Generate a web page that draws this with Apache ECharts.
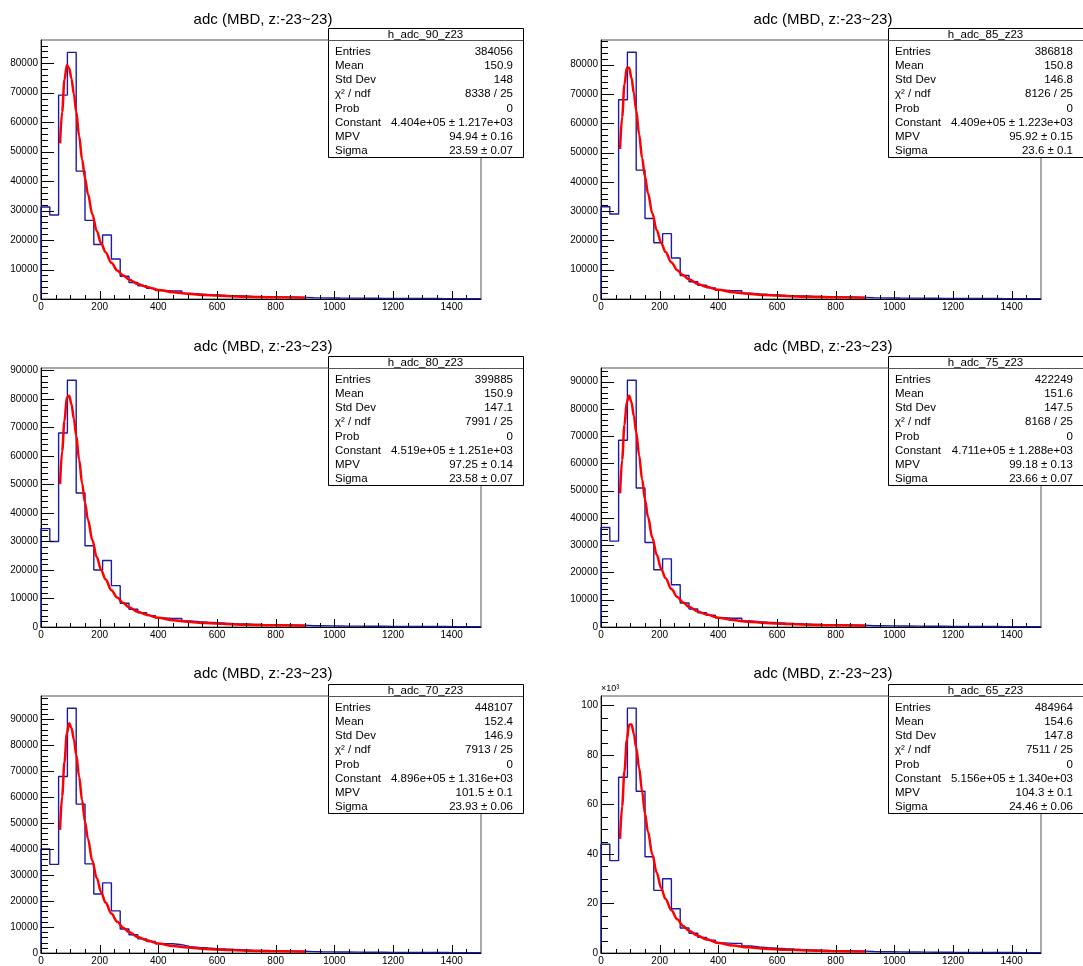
<!DOCTYPE html>
<html>
<head>
<meta charset="utf-8">
<script src="https://cdn.jsdelivr.net/npm/echarts@6/dist/echarts.min.js"></script>
<style>html,body{margin:0;padding:0;background:#fff;}#c{width:1083px;height:966px;}</style>
</head>
<body>
<div id="c"></div>
<script>
// ---------------- data ----------------
const BIN_WIDTH = 30;
const X_MAX = 1500;
const xTickLabels = [0, 200, 400, 600, 800, 1000, 1200, 1400];
const plotTitle = 'adc (MBD, z:-23~23)';
const histNames = ['h_adc_90_z23', 'h_adc_85_z23', 'h_adc_80_z23', 'h_adc_75_z23', 'h_adc_70_z23', 'h_adc_65_z23'];

const counts_90 = [31200, 28500, 69200, 83700, 43400, 26700, 18500, 21700, 13600, 7700,
  5600, 4500, 3600, 2900, 2700, 2700, 1900, 1700, 1500, 1350,
  1200, 1100, 1000, 900, 820, 760, 700, 650, 600, 550,
  420, 380, 350, 320, 300, 280, 260, 240, 225, 210,
  195, 180, 170, 160, 150, 140, 130, 120, 110, 100];
const counts_85 = [31500, 29000, 68000, 84200, 44000, 27500, 19200, 22300, 14000, 8000,
  5900, 4700, 3800, 3000, 2800, 2800, 2000, 1750, 1550, 1400,
  1250, 1130, 1030, 930, 850, 780, 720, 670, 620, 570,
  440, 400, 360, 330, 310, 290, 270, 250, 230, 215,
  200, 185, 175, 165, 155, 145, 135, 125, 115, 105];
const counts_80 = [34500, 30000, 68000, 86500, 47000, 28500, 20000, 23300, 14500, 8300,
  6200, 5000, 4000, 3200, 3000, 3000, 2100, 1850, 1650, 1480,
  1320, 1190, 1080, 980, 890, 820, 760, 700, 650, 600,
  460, 420, 380, 350, 320, 300, 280, 260, 240, 225,
  210, 195, 180, 170, 160, 150, 140, 130, 120, 110];
const counts_75 = [36500, 31500, 68500, 90500, 51000, 31000, 21000, 25000, 15500, 8800,
  6600, 5200, 4300, 3400, 3200, 3200, 2250, 1950, 1750, 1560,
  1400, 1260, 1140, 1030, 940, 860, 800, 740, 680, 630,
  480, 440, 400, 370, 340, 310, 290, 270, 250, 235,
  220, 205, 190, 178, 166, 155, 145, 135, 125, 115];
const counts_70 = [40000, 34100, 67900, 94200, 57300, 34300, 22700, 27000, 16200, 9250,
  7000, 5450, 4450, 3550, 3550, 3200, 2450, 2150, 1900, 1700,
  1520, 1370, 1240, 1120, 1020, 940, 870, 800, 740, 680,
  520, 470, 430, 400, 370, 340, 315, 295, 275, 255,
  240, 225, 210, 195, 180, 170, 160, 150, 140, 130];
const counts_65 = [43900, 37300, 71000, 98900, 65300, 38900, 25300, 30000, 17900, 10100,
  8000, 6300, 5200, 4100, 3900, 3900, 2800, 2450, 2150, 1900,
  1700, 1530, 1380, 1250, 1130, 1040, 960, 890, 820, 760,
  580, 530, 480, 440, 410, 380, 350, 325, 300, 280,
  265, 250, 235, 220, 205, 190, 178, 166, 155, 145];

const fitX = [65, 72, 80, 88, 96, 104, 112, 120, 130, 140, 150, 160, 175, 190, 205, 220,
  240, 260, 280, 300, 330, 360, 400, 450, 500, 560, 630, 700, 800, 900];
const fit_90 = [52800, 63500, 74400, 79300, 78400, 74700, 69600, 63600, 55300, 47400, 41100, 35600, 28800, 23100, 18900, 15900,
  12300, 9700, 8000, 6650, 5100, 4100, 3080, 2300, 1770, 1320, 1020, 760, 555, 430];
const fit_85 = [51200, 62100, 73200, 78900, 78900, 75400, 70300, 64400, 56200, 48200, 41800, 36200, 29200, 23500, 19200, 16000,
  12500, 9850, 8110, 6720, 5160, 4140, 3120, 2310, 1780, 1330, 1020, 765, 560, 432];
const fit_80 = [50100, 61600, 72200, 80500, 81100, 78100, 73000, 67100, 58700, 50400, 43600, 37700, 30500, 24500, 20000, 16700,
  12900, 10300, 8410, 6960, 5380, 4300, 3210, 2390, 1830, 1370, 1050, 785, 575, 445];
const fit_75 = [49000, 61300, 74100, 82600, 84800, 82400, 77500, 71500, 63000, 54200, 46800, 40500, 32700, 26500, 21400, 17900,
  13900, 11000, 9000, 7440, 5700, 4570, 3420, 2530, 1950, 1450, 1110, 830, 608, 470];
const fit_70 = [47400, 60200, 73500, 84400, 88400, 86600, 82300, 76400, 67900, 58800, 50500, 44000, 35400, 28900, 23400, 19400,
  15200, 12000, 9740, 8080, 6170, 4950, 3670, 2710, 2090, 1560, 1190, 880, 655, 505];
const fit_65 = [46100, 59300, 73500, 86000, 92200, 92300, 88600, 83000, 74700, 65400, 56300, 49000, 39800, 32400, 26300, 21800,
  17300, 13600, 10900, 9020, 6920, 5520, 4070, 3000, 2330, 1740, 1330, 1000, 730, 560];

const yMaxes = [87900, 88400, 90800, 95000, 98900, 103800];
const yMajorSteps = [10000, 10000, 10000, 10000, 10000, 20000];
const yMinorSteps = [2000, 2000, 2000, 2000, 2000, 5000];
const yLabelScale = [1, 1, 1, 1, 1, 1000];
const yAxisNames = ['', '', '', '', '', '×10³'];

const statLabels = ['Entries', 'Mean', 'Std Dev', 'χ² / ndf', 'Prob', 'Constant', 'MPV', 'Sigma'];
const entries = ['384056', '386818', '399885', '422249', '448107', '484964'];
const means = ['150.9', '150.8', '150.9', '151.6', '152.4', '154.6'];
const stdDevs = ['148', '146.8', '147.1', '147.5', '146.9', '147.8'];
const chi2ndf = ['8338 / 25', '8126 / 25', '7991 / 25', '8168 / 25', '7913 / 25', '7511 / 25'];
const probs = ['0', '0', '0', '0', '0', '0'];
const constants = ['4.404e+05 ± 1.217e+03', '4.409e+05 ± 1.223e+03', '4.519e+05 ± 1.251e+03',
  '4.711e+05 ± 1.288e+03', '4.896e+05 ± 1.316e+03', '5.156e+05 ± 1.340e+03'];
const mpvs = ['94.94 ± 0.16', '95.92 ± 0.15', '97.25 ± 0.14', '99.18 ± 0.13', '101.5 ± 0.1', '104.3 ± 0.1'];
const sigmas = ['23.59 ± 0.07', '23.6 ± 0.1', '23.58 ± 0.07', '23.66 ± 0.07', '23.93 ± 0.06', '24.46 ± 0.06'];

const allCounts = [counts_90, counts_85, counts_80, counts_75, counts_70, counts_65];
const allFits = [fit_90, fit_85, fit_80, fit_75, fit_70, fit_65];

// ---------------- layout ----------------
const FONT = '"Liberation Sans", Arial, Helvetica, sans-serif';
const COL_DX = 560, ROW_DY = 328;
const GRID_L = 41, GRID_T = 40, GRID_W = 440, GRID_H = 259;
const STAT_FONT = '11.5px ' + FONT;
const TICK_LEN = { xMaj: 8, xMin: 4, yMaj: 13, yMin: 7 };

function histPoints(counts) {
  const pts = [[0, 0]];
  counts.forEach((c, i) => { pts.push([i * BIN_WIDTH, c]); pts.push([(i + 1) * BIN_WIDTH, c]); });
  pts.push([X_MAX, 0]);
  return pts;
}

// tick renderer: draws inside tick marks at axis values through the grid's own scales
function tickRenderer(params, api) {
  const v = api.value(0), kind = api.value(1);
  if (kind < 2) { // x ticks (0 major, 1 minor)
    const p = api.coord([v, 0]);
    const x = Math.round(p[0]) + 0.5, y = Math.round(p[1]);
    const len = kind === 0 ? TICK_LEN.xMaj : TICK_LEN.xMin;
    return { type: 'line', shape: { x1: x, y1: y, x2: x, y2: y - len }, style: { stroke: '#000', lineWidth: 1 } };
  }
  const p = api.coord([0, v]);
  const x = Math.round(p[0]), y = Math.round(p[1]) + 0.5;
  const len = kind === 2 ? TICK_LEN.yMaj : TICK_LEN.yMin;
  return { type: 'line', shape: { x1: x, y1: y, x2: x + len, y2: y }, style: { stroke: '#000', lineWidth: 1 } };
}

const grids = [], xAxes = [], yAxes = [], series = [], graphics = [];

for (let p = 0; p < 6; p++) {
  const col = p % 2, row = Math.floor(p / 2);
  const ox = col * COL_DX, oy = row * ROW_DY;
  grids.push({ left: GRID_L + ox, top: GRID_T + oy, width: GRID_W, height: GRID_H,
    show: true, borderColor: '#555', borderWidth: 1 });

  xAxes.push({ gridIndex: p, type: 'value', min: 0, max: X_MAX, interval: 200, position: 'bottom',
    axisLine: { show: true, lineStyle: { color: '#000' } },
    axisTick: { show: false },
    axisLabel: { show: true, showMaxLabel: false, margin: 3, fontSize: 10, color: '#000', fontFamily: FONT,
      formatter: v => String(v) },
    splitLine: { show: false } });

  const sc = yLabelScale[p];
  yAxes.push({ gridIndex: p, type: 'value', min: 0, max: yMaxes[p], interval: yMajorSteps[p], position: 'left',
    name: yAxisNames[p], nameLocation: 'end', nameGap: 3,
    nameTextStyle: { fontSize: 9, fontFamily: FONT, color: '#000', align: 'left' },
    axisLine: { show: true, lineStyle: { color: '#000' } },
    axisTick: { show: false },
    axisLabel: { show: true, showMaxLabel: false, margin: 3, fontSize: 10, color: '#000', fontFamily: FONT,
      formatter: v => String(v / sc) },
    splitLine: { show: false } });

  series.push({ type: 'line', xAxisIndex: p, yAxisIndex: p, data: histPoints(allCounts[p]),
    symbol: 'none', lineStyle: { color: '#1a1aa8', width: 1.4 } });
  series.push({ type: 'line', xAxisIndex: p, yAxisIndex: p,
    data: fitX.map((x, i) => [x, allFits[p][i]]), smooth: 0.35, smoothMonotone: 'x',
    symbol: 'none', lineStyle: { color: '#ff0000', width: 2.5 } });

  // tick values (axis ticks: major = labelled values, minor in between)
  const tickData = [];
  xTickLabels.forEach(v => tickData.push([v, 0]));
  for (let v = 50; v < X_MAX; v += 50) if (v % 200 !== 0) tickData.push([v, 1]);
  for (let v = 0; v <= yMaxes[p]; v += yMajorSteps[p]) tickData.push([v, 2]);
  for (let v = yMinorSteps[p]; v < yMaxes[p]; v += yMinorSteps[p]) if (v % yMajorSteps[p] !== 0) tickData.push([v, 3]);
  series.push({ type: 'custom', xAxisIndex: p, yAxisIndex: p, data: tickData, renderItem: tickRenderer,
    clip: false, silent: true, z: 5 });

  // title
  graphics.push({ type: 'text', x: 263 + ox, y: 19.5 + oy - row * 0.7, z: 20,
    style: { text: plotTitle, font: '15px ' + FONT, fill: '#000', textAlign: 'center', textVerticalAlign: 'middle' } });

  // stats box
  const bx = 328 + ox, by = 28 + oy, bw = 195, bh = 129;
  graphics.push({ type: 'rect', z: 20, shape: { x: bx + 0.5, y: by + 0.5, width: bw, height: bh },
    style: { fill: '#fff', stroke: '#000', lineWidth: 1 } });
  graphics.push({ type: 'line', z: 21, shape: { x1: bx, y1: by + 12.5, x2: bx + bw, y2: by + 12.5 },
    style: { stroke: '#555', lineWidth: 1 } });
  graphics.push({ type: 'text', z: 22, x: bx + bw / 2, y: by + 6.5,
    style: { text: histNames[p], font: STAT_FONT, fill: '#000', textAlign: 'center', textVerticalAlign: 'middle' } });
  const vals = [entries[p], means[p], stdDevs[p], chi2ndf[p], probs[p], constants[p], mpvs[p], sigmas[p]];
  statLabels.forEach((lab, i) => {
    const ty = by + 24 + i * 14.1;
    graphics.push({ type: 'text', z: 22, x: bx + 7, y: ty,
      style: { text: lab, font: STAT_FONT, fill: '#000', textAlign: 'left', textVerticalAlign: 'middle' } });
    graphics.push({ type: 'text', z: 22, x: bx + bw - 10, y: ty,
      style: { text: vals[i], font: STAT_FONT, fill: '#000', textAlign: 'right', textVerticalAlign: 'middle' } });
  });
}

const chart = echarts.init(document.getElementById('c'), null, { renderer: 'canvas' });
chart.setOption({
  backgroundColor: '#fff',
  animation: false,
  grid: grids, xAxis: xAxes, yAxis: yAxes, series: series, graphic: graphics
});
</script>
</body>
</html>
